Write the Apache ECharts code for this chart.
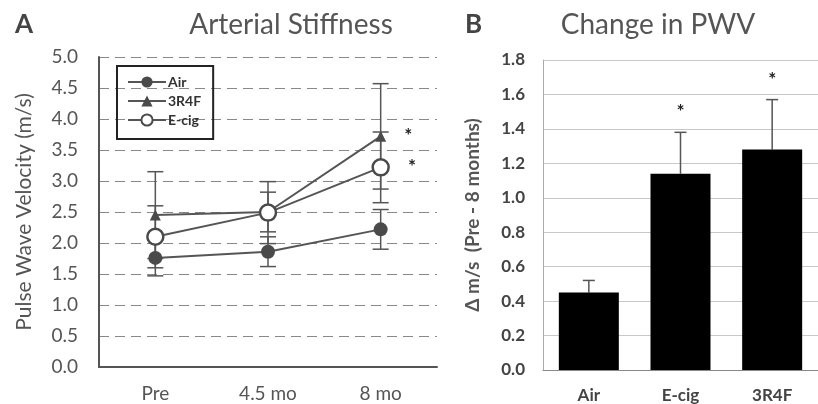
<!DOCTYPE html>
<html>
<head>
<meta charset="utf-8">
<script src="https://cdn.jsdelivr.net/npm/echarts@6/dist/echarts.min.js"></script>
<style>
  html, body { margin: 0; padding: 0; background: #fff; }
  #main { width: 818px; height: 404px; }
</style>
</head>
<body>
<div id="main"></div>
<script>
// 数据 - panel A
var timeLabels = ['Pre', '4.5 mo', '8 mo'];
var airPwv = [1.76, 1.86, 2.22];
var airErr = [0.29, 0.24, 0.32];
var r4fPwv = [2.45, 2.50, 3.72];
var r4fErr = [0.70, 0.32, 0.85];
var ecigPwv = [2.10, 2.49, 3.22];
var ecigErr = [0.50, 0.50, 0.57];
var starA = ['', '', '*'];      // 3R4F / E-cig significance at 8 mo

// 数据 - panel B
var groupLabels = ['Air', 'E-cig', '3R4F'];
var deltaPwv = [0.45, 1.14, 1.28];
var deltaErr = [0.07, 0.24, 0.29];
var starB = ['', '*', '*'];

var ink = '#555';
var font = 'Lato, "Open Sans", sans-serif';

// 误差线 (竖线 + 横帽)
function errSeries(name, vals, errs, onlyUp, xi, yi, cap, stars) {
    return {
        type: 'custom',
        name: name,
        xAxisIndex: xi,
        yAxisIndex: yi,
        z: 1,
        data: vals.map(function (v, i) { return [i, v, errs[i]]; }),
        renderItem: function (params, api) {
            var i = api.value(0), v = api.value(1), e = api.value(2);
            var top = api.coord([i, v + e]);
            var bot = api.coord([i, onlyUp ? v : v - e]);
            var st = { stroke: ink, lineWidth: 1.5 };
            var kids = [
                { type: 'line', shape: { x1: top[0], y1: top[1], x2: bot[0], y2: bot[1] }, style: st },
                { type: 'line', shape: { x1: top[0] - cap, y1: top[1], x2: top[0] + cap, y2: top[1] }, style: st }
            ];
            if (!onlyUp) {
                kids.push({ type: 'line', shape: { x1: bot[0] - cap, y1: bot[1], x2: bot[0] + cap, y2: bot[1] }, style: st });
            }
            if (stars && stars[i]) {
                kids.push({ type: 'text', style: { text: stars[i], x: top[0], y: top[1] - 20,
                    align: 'center', verticalAlign: 'middle', fill: '#222', font: 'bold 19px ' + font } });
            }
            return { type: 'group', children: kids };
        }
    };
}

function starLabel(vals, stars) {
    return vals.map(function (v, i) {
        if (!stars[i]) return v;
        return { value: v, label: { show: true, formatter: stars[i], position: 'right', distance: 18,
            color: '#222', fontSize: 19, fontWeight: 'bold', fontFamily: font } };
    });
}

var myChart = echarts.init(document.getElementById('main'));
var option = {
    backgroundColor: '#fff',
    animation: false,
    textStyle: { fontFamily: font },
    title: [
        { text: 'A', left: 10, top: 7, textStyle: { fontSize: 26, fontWeight: 'bold', color: '#444', fontFamily: font } },
        { text: 'Arterial Stiffness', left: 286, top: 6, textAlign: 'center', textStyle: { fontSize: 28, fontWeight: 'normal', color: ink, fontFamily: font } },
        { text: 'B', left: 460, top: 7, textStyle: { fontSize: 26, fontWeight: 'bold', color: '#444', fontFamily: font } },
        { text: 'Change in PWV', left: 653, top: 6, textAlign: 'center', textStyle: { fontSize: 28, fontWeight: 'normal', color: ink, fontFamily: font } }
    ],
    legend: {
        data: ['Air', '3R4F', 'E-cig'],
        orient: 'vertical',
        left: 117,
        top: 66,
        padding: [9, 12, 12, 10],
        itemGap: 5,
        itemWidth: 38,
        itemHeight: 14,
        borderColor: '#222',
        borderWidth: 2,
        textStyle: { fontSize: 14, fontWeight: 'bold', color: '#333', fontFamily: font, padding: [0, 0, 0, -3] }
    },
    grid: [
        { left: 99, top: 57, width: 338, height: 310 },
        { left: 543, top: 60, width: 284, height: 310 }
    ],
    xAxis: [
        {
            gridIndex: 0, type: 'category', data: timeLabels,
            axisLine: { lineStyle: { color: ink, width: 2 } },
            axisTick: { alignWithLabel: true, length: 6, lineStyle: { color: ink, width: 2 } },
            axisLabel: { color: ink, fontSize: 19, margin: 17, fontFamily: font }
        },
        {
            gridIndex: 1, type: 'category', data: groupLabels,
            axisLine: { lineStyle: { color: '#888', width: 1 } },
            axisTick: { show: false },
            axisLabel: { color: '#444', fontSize: 17, fontWeight: 'bold', margin: 17, fontFamily: font }
        }
    ],
    yAxis: [
        {
            gridIndex: 0, type: 'value', min: 0, max: 5, interval: 0.5,
            name: 'Pulse Wave Velocity (m/s)', nameLocation: 'middle', nameGap: 64,
            nameTextStyle: { color: ink, fontSize: 21, fontFamily: font },
            axisLine: { show: true, lineStyle: { color: ink, width: 2 } },
            axisTick: { show: false },
            axisLabel: { color: ink, fontSize: 19, margin: 21, formatter: function (v) { return v.toFixed(1); }, fontFamily: font },
            splitLine: { show: true, lineStyle: { color: '#888', type: [10, 6], width: 1 } }
        },
        {
            gridIndex: 1, type: 'value', min: 0, max: 1.8, interval: 0.2,
            name: 'Δ m/s  (Pre - 8 months)', nameLocation: 'middle', nameGap: 61,
            nameTextStyle: { color: ink, fontSize: 19, fontWeight: 'bold', fontFamily: font },
            axisLine: { show: true, lineStyle: { color: '#aaa', width: 1 } },
            axisTick: { show: false },
            axisLabel: { color: '#444', fontSize: 17, fontWeight: 'bold', margin: 18, formatter: function (v) { return v.toFixed(1); }, fontFamily: font },
            splitLine: { show: true, lineStyle: { color: '#c8c8c8', width: 1 } }
        }
    ],
    series: [
        errSeries('errAir', airPwv, airErr, false, 0, 0, 8),
        errSeries('err3R4F', r4fPwv, r4fErr, false, 0, 0, 8),
        errSeries('errEcig', ecigPwv, ecigErr, false, 0, 0, 8),
        {
            name: 'Air', type: 'line', xAxisIndex: 0, yAxisIndex: 0, z: 3,
            data: airPwv, symbol: 'circle', symbolSize: 14,
            lineStyle: { color: ink, width: 2 },
            itemStyle: { color: '#4a4a4a' }
        },
        {
            name: '3R4F', type: 'line', xAxisIndex: 0, yAxisIndex: 0, z: 3,
            data: starLabel(r4fPwv, starA), symbol: 'triangle', symbolSize: 11,
            lineStyle: { color: ink, width: 2 },
            itemStyle: { color: '#4a4a4a' }
        },
        {
            name: 'E-cig', type: 'line', xAxisIndex: 0, yAxisIndex: 0, z: 4,
            data: starLabel(ecigPwv, starA), symbol: 'circle', symbolSize: 16, showSymbol: true,
            lineStyle: { color: ink, width: 2 },
            itemStyle: { color: '#fff', borderColor: '#4a4a4a', borderWidth: 2.5 }
        },
        {
            name: 'delta', type: 'bar', xAxisIndex: 1, yAxisIndex: 1, z: 2,
            data: deltaPwv, barWidth: 60,
            itemStyle: { color: '#000' }
        },
        errSeries('errDelta', deltaPwv, deltaErr, true, 1, 1, 6, starB)
    ]
};
myChart.setOption(option);
</script>
</body>
</html>
